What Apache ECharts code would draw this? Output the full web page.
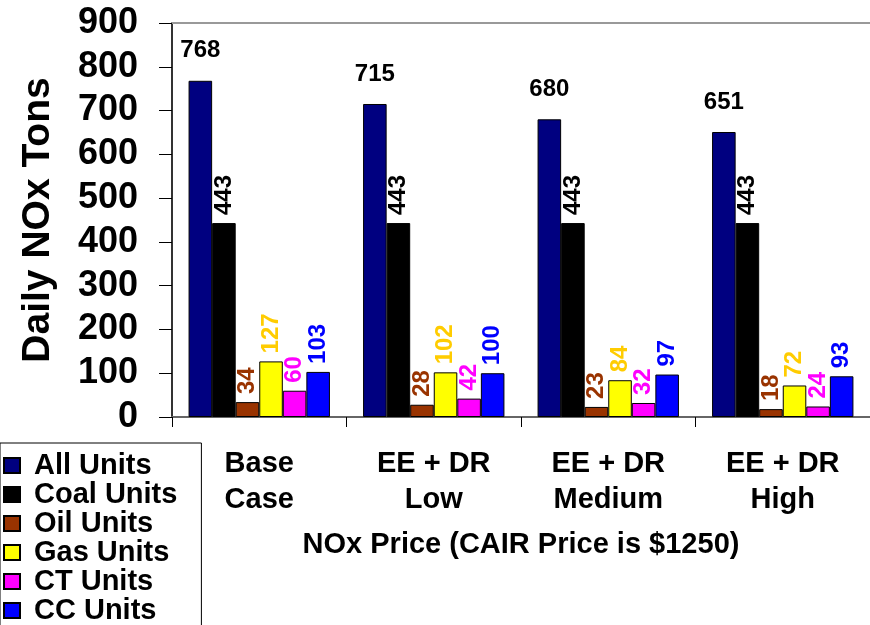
<!DOCTYPE html>
<html>
<head>
<meta charset="utf-8">
<script src="https://cdn.jsdelivr.net/npm/echarts@6/dist/echarts.min.js"></script>
<style>
  html, body { margin: 0; padding: 0; background: #fff; }
  #chart { width: 870px; height: 625px; }
</style>
</head>
<body>
<div id="chart"></div>
<script>
// Scenario categories along the x axis
const categories = ['Base\nCase', 'EE + DR\nLow', 'EE + DR\nMedium', 'EE + DR\nHigh'];

// Daily NOx tons by unit type
const allUnits  = [768, 715, 680, 651];
const coalUnits = [443, 443, 443, 443];
const oilUnits  = [34, 28, 23, 18];
const gasUnits  = [127, 102, 84, 72];
const ctUnits   = [60, 42, 32, 24];
const ccUnits   = [103, 100, 97, 93];

// Value axis
const yMin = 0, yMax = 900, yStep = 100;

const FONT = "'Liberation Sans', Arial, sans-serif";

function rotatedLabel(color) {
  return {
    show: true,
    position: 'top',
    rotate: 90,
    align: 'left',
    verticalAlign: 'middle',
    distance: 8,
    fontFamily: FONT,
    fontSize: 24,
    fontWeight: 'bold',
    color: color
  };
}

function barSeries(name, data, fill, label) {
  return {
    name: name,
    type: 'bar',
    xAxisIndex: 0,
    data: data,
    barGap: '0%',
    barCategoryGap: '19%',
    itemStyle: { color: fill, borderColor: '#000', borderWidth: 1 },
    label: label,
    emphasis: { disabled: true }
  };
}

const chart = echarts.init(document.getElementById('chart'), null, { renderer: 'canvas' });

chart.setOption({
  animation: false,
  backgroundColor: '#fff',
  textStyle: { fontFamily: FONT },
  grid: { left: 172, right: -2, top: 23, bottom: 208, containLabel: false },
  legend: {
    orient: 'vertical',
    left: 0,
    top: 443,
    height: 300,
    padding: [8, 24, 6, 3],
    itemGap: 0,
    itemWidth: 16,
    itemHeight: 15,
    icon: 'rect',
    backgroundColor: '#fff',
    borderColor: '#000',
    borderWidth: 1,
    borderRadius: 0,
    selectedMode: false,
    textStyle: {
      fontFamily: FONT,
      fontSize: 29,
      fontWeight: 'bold',
      color: '#000',
      padding: [0, 0, 0, 9]
    },
    data: ['All Units', 'Coal Units', 'Oil Units', 'Gas Units', 'CT Units', 'CC Units']
  },
  xAxis: [
    {
      type: 'category',
      data: categories,
      position: 'bottom',
      axisLine: { show: true, lineStyle: { color: '#666', width: 2 } },
      axisTick: { show: true, length: 10, lineStyle: { color: '#000', width: 1 } },
      axisLabel: {
        margin: 29,
        fontFamily: FONT,
        fontSize: 29,
        fontWeight: 'bold',
        color: '#000',
        lineHeight: 36
      },
      splitLine: { show: false },
      name: 'NOx Price (CAIR Price is $1250)',
      nameLocation: 'middle',
      nameGap: 113,
      nameTextStyle: { fontFamily: FONT, fontSize: 29, fontWeight: 'bold', color: '#000' }
    },
    {
      type: 'category',
      data: categories,
      position: 'top',
      axisLine: { show: true, lineStyle: { color: '#999', width: 2 } },
      axisTick: { show: false },
      axisLabel: { show: false },
      splitLine: { show: false }
    }
  ],
  yAxis: {
    type: 'value',
    min: yMin,
    max: yMax,
    interval: yStep,
    axisLine: { show: true, lineStyle: { color: '#333', width: 2 } },
    axisTick: { show: true, length: 13, lineStyle: { color: '#000', width: 1 } },
    axisLabel: {
      margin: 34,
      fontFamily: FONT,
      fontSize: 36,
      fontWeight: 'bold',
      color: '#000'
    },
    splitLine: { show: false },
    name: 'Daily NOx Tons',
    nameLocation: 'middle',
    nameRotate: 90,
    nameGap: 114,
    nameTextStyle: { fontFamily: FONT, fontSize: 39, fontWeight: 'bold', color: '#000' }
  },
  series: [
    barSeries('All Units', allUnits, '#000080', {
      show: true,
      position: 'top',
      distance: 18,
      fontFamily: FONT,
      fontSize: 24,
      fontWeight: 'bold',
      color: '#000'
    }),
    barSeries('Coal Units', coalUnits, '#000000', rotatedLabel('#000000')),
    barSeries('Oil Units', oilUnits, '#993300', rotatedLabel('#993300')),
    barSeries('Gas Units', gasUnits, '#FFFF00', rotatedLabel('#FFCC00')),
    barSeries('CT Units', ctUnits, '#FF00FF', rotatedLabel('#FF00FF')),
    barSeries('CC Units', ccUnits, '#0000FF', rotatedLabel('#0000FF'))
  ]
});
</script>
</body>
</html>
